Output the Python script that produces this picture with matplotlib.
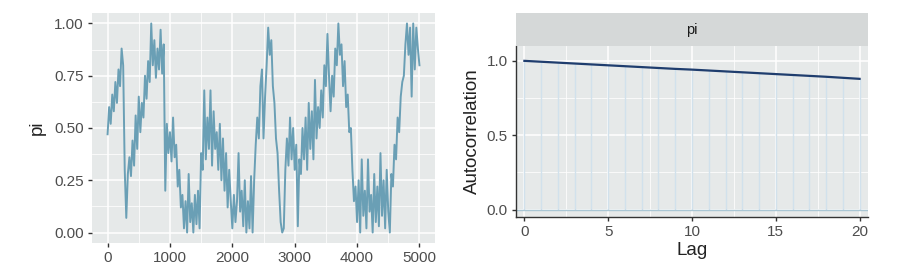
import matplotlib.pyplot as plt
import numpy as np

plt.rcParams['font.family'] = ['Liberation Sans', 'DejaVu Sans']

# Trace of pi, one value every 25 iterations
trace_step = 25
pi_trace = [
    0.47, 0.60, 0.52, 0.66, 0.58, 0.72, 0.62, 0.78, 0.70, 0.88,
    0.80, 0.30, 0.07, 0.28, 0.36, 0.27, 0.44, 0.32, 0.56, 0.40,
    0.65, 0.48, 0.62, 0.55, 0.75, 0.64, 0.82, 0.72, 1.00, 0.80,
    0.92, 0.74, 0.88, 0.78, 0.97, 0.76, 0.90, 0.20, 0.52, 0.38,
    0.48, 0.34, 0.55, 0.36, 0.42, 0.22, 0.30, 0.12, 0.18, 0.02,
    0.15, 0.00, 0.28, 0.05, 0.14, 0.00, 0.18, 0.04, 0.20, 0.02,
    0.38, 0.30, 0.68, 0.35, 0.55, 0.40, 0.68, 0.32, 0.58, 0.40,
    0.48, 0.30, 0.52, 0.25, 0.45, 0.20, 0.38, 0.12, 0.30, 0.15,
    0.02, 0.18, 0.05, 0.15, 0.38, 0.10, 0.20, 0.03, 0.25, 0.00,
    0.15, 0.02, 0.27, 0.00, 0.25, 0.42, 0.55, 0.45, 0.70, 0.78,
    0.45, 0.65, 0.80, 0.98, 0.85, 0.92, 0.70, 0.62, 0.45, 0.38,
    0.20, 0.05, 0.00, 0.02, 0.30, 0.45, 0.32, 0.55, 0.35, 0.50,
    0.30, 0.42, 0.03, 0.35, 0.28, 0.50, 0.35, 0.55, 0.30, 0.62,
    0.40, 0.58, 0.35, 0.73, 0.45, 0.60, 0.50, 0.68, 0.55, 0.80,
    0.70, 0.95, 0.75, 0.58, 0.75, 0.65, 0.88, 0.80, 1.00, 0.85,
    0.90, 0.70, 0.82, 0.60, 0.66, 0.48, 0.50, 0.30, 0.15, 0.22,
    0.05, 0.25, 0.00, 0.35, 0.08, 0.20, 0.02, 0.35, 0.10, 0.18,
    0.00, 0.28, 0.05, 0.22, 0.03, 0.38, 0.08, 0.25, 0.02, 0.30,
    0.10, 0.00, 0.28, 0.22, 0.42, 0.35, 0.55, 0.48, 0.65, 0.72,
    0.75, 0.90, 1.00, 0.85, 0.98, 0.65, 1.00, 0.78, 0.98, 0.88,
    0.80,
]
iterations = np.arange(len(pi_trace)) * trace_step

# Autocorrelation by lag
lags = list(range(21))
acf = [1.000, 0.994, 0.988, 0.982, 0.976, 0.970, 0.964, 0.958, 0.952, 0.946,
       0.941, 0.935, 0.929, 0.923, 0.917, 0.911, 0.905, 0.899, 0.893, 0.886,
       0.879]

panel_bg = '#e6e9e9'
strip_bg = '#d5d8d8'
trace_col = '#6a9fb5'
acf_light = '#d1e1ec'
acf_dark = '#1f3d6e'
tick_col = '#4d4d4d'

fig = plt.figure(figsize=(9.18, 2.76), dpi=100)

# Left: trace plot
ax1 = fig.add_axes([0.1002, 0.1196, 0.3737, 0.8333])
ax1.set_facecolor(panel_bg)
ax1.plot(iterations, pi_trace, color=trace_col, lw=1.4)
ax1.set_xlim(-250, 5250)
ax1.set_ylim(-0.05, 1.05)
ax1.set_xticks([0, 1000, 2000, 3000, 4000, 5000])
ax1.set_xticks([500, 1500, 2500, 3500, 4500], minor=True)
ax1.set_yticks([0, 0.25, 0.5, 0.75, 1.0])
ax1.set_yticklabels(['0.00', '0.25', '0.50', '0.75', '1.00'])
ax1.set_yticks([0.125, 0.375, 0.625, 0.875], minor=True)
ax1.grid(which='major', color='white', lw=1.1)
ax1.grid(which='minor', color='white', lw=0.55)
ax1.set_axisbelow(True)
for s in ax1.spines.values():
    s.set_visible(False)
ax1.tick_params(which='major', length=3, width=1, color='#333333', labelsize=11, labelcolor=tick_col, pad=3)
ax1.tick_params(which='minor', length=0)
ax1.set_ylabel('pi', fontsize=13.5, color='#222222', labelpad=6)

# Right: autocorrelation plot
ax2 = fig.add_axes([0.5621, 0.2138, 0.3834, 0.6196])
ax2.set_facecolor(panel_bg)
ax2.set_xlim(-0.5, 20.5)
ax2.set_ylim(-0.05, 1.1)
ax2.set_xticks([0, 5, 10, 15, 20])
ax2.set_xticks([2.5, 7.5, 12.5, 17.5], minor=True)
ax2.set_yticks([0, 0.5, 1.0])
ax2.set_yticklabels(['0.0', '0.5', '1.0'])
ax2.set_yticks([0.25, 0.75], minor=True)
ax2.grid(which='major', color='white', lw=1.1)
ax2.grid(which='minor', color='white', lw=0.55)
ax2.set_axisbelow(True)
ax2.vlines(lags, 0, acf, color=acf_light, lw=1.0, zorder=2)
ax2.axhline(0, color='#a9c6d4', lw=1.0, zorder=2)
ax2.plot(lags, acf, color=acf_dark, lw=1.6, zorder=3)
for side in ['top', 'right']:
    ax2.spines[side].set_visible(False)
for side in ['left', 'bottom']:
    ax2.spines[side].set_color('#333333')
    ax2.spines[side].set_linewidth(1.0)
ax2.tick_params(which='major', length=3, width=1, color='#333333', labelsize=11, labelcolor=tick_col, pad=3)
ax2.tick_params(which='minor', length=0)
ax2.set_ylabel('Autocorrelation', fontsize=13.5, color='#222222', labelpad=4)
ax2.set_xlabel('Lag', fontsize=13.5, color='#222222', labelpad=2)

# Facet strip
strip = fig.add_axes([0.5621, 0.8333, 0.3834, 0.1196])
strip.set_facecolor(strip_bg)
strip.set_xticks([])
strip.set_yticks([])
for s in strip.spines.values():
    s.set_visible(False)
strip.text(0.5, 0.5, 'pi', ha='center', va='center', fontsize=10.5, color='#1a1a1a', transform=strip.transAxes)

fig.savefig('out.png', dpi=100)
